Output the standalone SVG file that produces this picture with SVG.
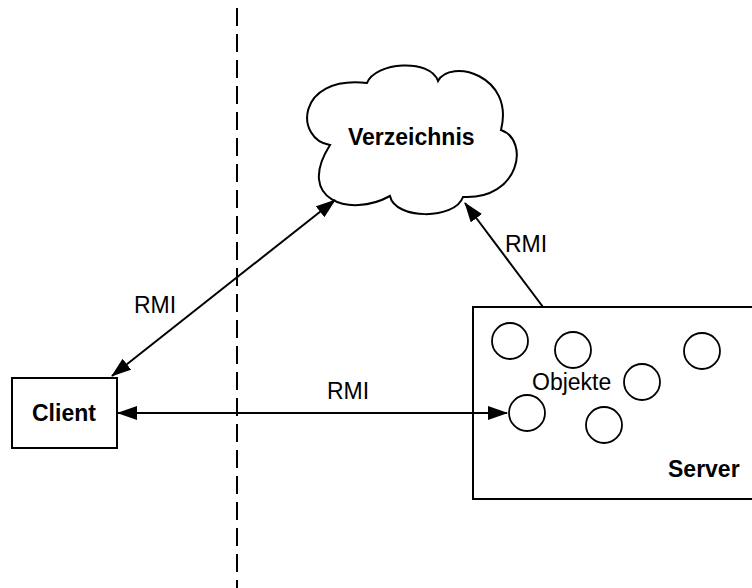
<svg xmlns="http://www.w3.org/2000/svg" width="752" height="588" viewBox="0 0 752 588">
  <style>
    .shape { fill: #fff; stroke: #000; stroke-width: 2; }
    .obj { fill: none; stroke: #000; stroke-width: 1.8; }
    .link { fill: none; stroke: #000; stroke-width: 2; }
    .lbl { font-family: "Liberation Sans", Arial, sans-serif; font-size: 23px; fill: #000; }
    .bold { font-weight: bold; }
  </style>
  <defs>
    <marker id="arrow" markerUnits="userSpaceOnUse" markerWidth="20" markerHeight="14" viewBox="0 0 20 14" refX="19" refY="7" orient="auto-start-reverse">
      <path d="M0,0 L20,7 L0,14 Z" fill="#000"/>
    </marker>
  </defs>

  <rect width="752" height="588" fill="#fff"/>

  <!-- boundary between client and server side -->
  <line x1="237" y1="8" x2="237" y2="588" stroke="#000" stroke-width="2" stroke-dasharray="18 8"/>

  <g id="verzeichnis">
    <path class="shape" d="M367,83 C375,62 430,58 438,81 C450,58 515,75 501,130 C530,140 520,200 463,197 C455,220 395,220 390,196 C350,218 295,200 330,145 C295,140 295,75 367,83 Z"/>
    <text class="lbl bold" x="348" y="145">Verzeichnis</text>
  </g>

  <g id="client">
    <rect class="shape" x="12" y="378" width="105" height="70"/>
    <text class="lbl bold" x="32" y="421">Client</text>
  </g>

  <g id="server">
    <rect class="shape" x="473" y="307" width="300" height="192"/>
    <circle class="obj" cx="510" cy="341" r="18"/>
    <circle class="obj" cx="573" cy="350" r="18"/>
    <circle class="obj" cx="702" cy="351" r="18"/>
    <circle class="obj" cx="642" cy="382" r="18"/>
    <circle class="obj" cx="527" cy="413" r="18"/>
    <circle class="obj" cx="604" cy="425" r="18"/>
    <text class="lbl" x="532" y="390">Objekte</text>
    <text class="lbl bold" x="668" y="477">Server</text>
  </g>

  <g id="connectors">
    <line class="link" x1="112" y1="376" x2="335" y2="200" marker-start="url(#arrow)" marker-end="url(#arrow)"/>
    <line class="link" x1="118" y1="413" x2="507" y2="413" marker-start="url(#arrow)" marker-end="url(#arrow)"/>
    <line class="link" x1="543" y1="307" x2="465" y2="203" marker-end="url(#arrow)"/>
    <text class="lbl" x="134" y="313">RMI</text>
    <text class="lbl" x="327" y="399">RMI</text>
    <text class="lbl" x="505" y="252">RMI</text>
  </g>
</svg>
